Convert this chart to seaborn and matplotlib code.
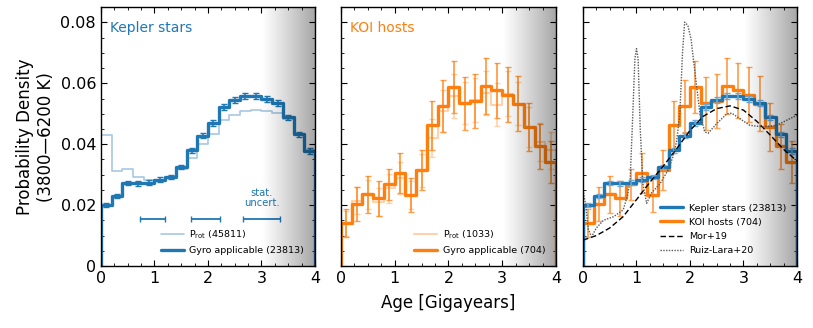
import numpy as np
import pandas as pd
import matplotlib
matplotlib.use("Agg")
import matplotlib.pyplot as plt
import seaborn as sns
from matplotlib.lines import Line2D

# ---------------- data ----------------
bin_edges = [0.0, 0.2, 0.4, 0.6, 0.8, 1.0, 1.2, 1.4, 1.6, 1.8, 2.0,
             2.2, 2.4, 2.6, 2.8, 3.0, 3.2, 3.4, 3.6, 3.8, 4.0]

kepler_gyro = [0.0200, 0.0230, 0.0272, 0.0271, 0.0274, 0.0284, 0.0292, 0.0325,
               0.0380, 0.0428, 0.0470, 0.0522, 0.0545, 0.0558, 0.0558, 0.0549,
               0.0535, 0.0488, 0.0432, 0.0378]
kepler_gyro_err = [0.0007, 0.0007, 0.0007, 0.0007, 0.0007, 0.0007, 0.0007, 0.0008,
                   0.0008, 0.0009, 0.0009, 0.0009, 0.0009, 0.0009, 0.0009, 0.0009,
                   0.0009, 0.0009, 0.0009, 0.0009]
kepler_prot = [0.0430, 0.0313, 0.0318, 0.0293, 0.0282, 0.0282, 0.0290, 0.0320,
               0.0355, 0.0402, 0.0435, 0.0479, 0.0495, 0.0509, 0.0511, 0.0508,
               0.0501, 0.0482, 0.0435, 0.0380]

koi_gyro = [0.0140, 0.0203, 0.0235, 0.0222, 0.0269, 0.0306, 0.0233, 0.0315,
            0.0462, 0.0526, 0.0588, 0.0535, 0.0542, 0.0590, 0.0577, 0.0563,
            0.0533, 0.0457, 0.0393, 0.0342]
koi_gyro_err = [0.0046, 0.0055, 0.0060, 0.0057, 0.0051, 0.0066, 0.0057, 0.0066,
                0.0081, 0.0086, 0.0085, 0.0087, 0.0088, 0.0092, 0.0090, 0.0091,
                0.0090, 0.0079, 0.0074, 0.0069]
koi_prot = [0.0140, 0.0215, 0.0235, 0.0210, 0.0255, 0.0290, 0.0233, 0.0315,
            0.0421, 0.0508, 0.0559, 0.0535, 0.0545, 0.0568, 0.0530, 0.0566,
            0.0533, 0.0457, 0.0408, 0.0380]
koi_prot_err = [0.0040, 0.0045, 0.0048, 0.0045, 0.0048, 0.0052, 0.0047, 0.0054,
                0.0063, 0.0069, 0.0072, 0.0070, 0.0071, 0.0073, 0.0070, 0.0073,
                0.0070, 0.0065, 0.0062, 0.0060]

stat_x = [0.96, 1.96, 3.00]
stat_xerr = [0.23, 0.27, 0.35]
stat_y = [0.0155, 0.0155, 0.0155]

mor_age = [0.0, 0.25, 0.5, 0.75, 1.0, 1.25, 1.5, 1.75, 2.0, 2.25, 2.5,
           2.75, 3.0, 3.25, 3.5, 3.75, 4.0]
mor_pdf = [0.0085, 0.0100, 0.0125, 0.0162, 0.0218, 0.0275, 0.0328, 0.0385,
           0.0445, 0.0492, 0.0517, 0.0526, 0.0512, 0.0475, 0.0430, 0.0383, 0.0345]

ruiz_age = [0.0, 0.05, 0.10, 0.16, 0.25, 0.38, 0.57, 0.75, 0.83, 0.88, 0.92,
            0.97, 1.00, 1.03, 1.07, 1.12, 1.19, 1.28, 1.44, 1.59, 1.68, 1.75,
            1.81, 1.86, 1.90, 1.96, 2.02, 2.09, 2.19, 2.28, 2.34, 2.50, 2.69,
            2.78, 2.93, 3.12, 3.37, 3.62, 3.81, 4.0]
ruiz_pdf = [0.0250, 0.0200, 0.0120, 0.0096, 0.0125, 0.0150, 0.0162, 0.0184,
            0.0230, 0.0280, 0.0450, 0.0680, 0.0714, 0.0680, 0.0450, 0.0270,
            0.0206, 0.0240, 0.0270, 0.0315, 0.0358, 0.0410, 0.0500, 0.0700,
            0.0801, 0.0790, 0.0745, 0.0640, 0.0495, 0.0440, 0.0436, 0.0468,
            0.0500, 0.0502, 0.0484, 0.0462, 0.0457, 0.0462, 0.0479, 0.0495]

BLUE = "#1f77b4"
LBLUE = "#a6c8e3"
ORANGE = "#ff7f0e"

# ---------------- style ----------------
sns.set_style("ticks")
plt.rcParams.update({
    "font.family": ["DejaVu Sans"],
    "text.color": "black", "axes.labelcolor": "black",
    "xtick.labelcolor": "black", "ytick.labelcolor": "black",
    "xtick.direction": "in", "ytick.direction": "in",
    "xtick.top": True, "ytick.right": True,
    "xtick.major.size": 4.5, "ytick.major.size": 4.5,
    "xtick.minor.size": 2.2, "ytick.minor.size": 2.2,
    "xtick.labelsize": 11.5, "ytick.labelsize": 11.5,
    "axes.edgecolor": "black", "axes.linewidth": 1.0,
    "xtick.color": "black", "ytick.color": "black",
})

fig = plt.figure(figsize=(8.13, 3.28), dpi=100)
bottom, height = 0.189, 0.789
axes = [fig.add_axes([0.1242, bottom, 0.2632, height]),
        fig.add_axes([0.4194, bottom, 0.2645, height]),
        fig.add_axes([0.7171, bottom, 0.2632, height])]

edges = np.array(bin_edges)
centers = 0.5 * (edges[1:] + edges[:-1])
bw = float(edges[1] - edges[0])
brange = (float(edges[0]), float(edges[-1]))


def step(ax, vals, color, lw, alpha=1.0, z=2):
    df = pd.DataFrame({"age": centers, "w": vals})
    sns.histplot(data=df, x="age", weights="w", binwidth=bw, binrange=brange,
                 element="step", fill=False, color=color, linewidth=lw,
                 alpha=alpha, ax=ax, zorder=z)
    # vertical ends like a step histogram
    ax.plot([edges[0], edges[0]], [0, vals[0]], color=color, lw=lw, alpha=alpha, zorder=z)
    ax.plot([edges[-1], edges[-1]], [0, vals[-1]], color=color, lw=lw, alpha=alpha, zorder=z)


def shade(ax):
    xs = np.linspace(0, 1, 256)
    a = 0.35 * xs ** 1.1
    img = np.zeros((1, 256, 4))
    img[..., 3] = a
    ax.imshow(img, extent=[3.0, 4.0, 0, 0.085], aspect="auto", zorder=3,
              interpolation="bilinear")


# ---- panel 1: Kepler stars ----
ax = axes[0]
step(ax, kepler_prot, LBLUE, 1.2)
step(ax, kepler_gyro, BLUE, 2.4)
ax.errorbar(centers, kepler_gyro, yerr=kepler_gyro_err, fmt="none", ecolor=BLUE,
            elinewidth=1.2, capsize=2.2, capthick=1.0, zorder=2)
ax.errorbar(stat_x, stat_y, xerr=stat_xerr, fmt="none", ecolor=BLUE,
            elinewidth=1.3, capsize=2.5, capthick=1.0, zorder=2)
ax.text(3.0, 0.0225, "stat.\nuncert.", color=BLUE, fontsize=7.2, ha="center",
        va="center", linespacing=1.0)
ax.text(0.042, 0.92, "Kepler stars", color=BLUE, fontsize=10,
        transform=ax.transAxes, va="center", ha="left")

# ---- panel 2: KOI hosts ----
ax = axes[1]
step(ax, koi_prot, ORANGE, 1.5, alpha=0.35)
ax.errorbar(centers, koi_prot, yerr=koi_prot_err, fmt="none", ecolor=ORANGE,
            alpha=0.35, elinewidth=1.2, capsize=2.2, zorder=2)
step(ax, koi_gyro, ORANGE, 2.4)
ax.errorbar(centers, koi_gyro, yerr=koi_gyro_err, fmt="none", ecolor=ORANGE,
            alpha=0.75, elinewidth=1.3, capsize=2.2, zorder=2)
ax.text(0.042, 0.92, "KOI hosts", color=ORANGE, fontsize=10,
        transform=ax.transAxes, va="center", ha="left")

# ---- panel 3: comparison ----
ax = axes[2]
step(ax, koi_gyro, ORANGE, 2.4)
ax.errorbar(centers, koi_gyro, yerr=koi_gyro_err, fmt="none", ecolor=ORANGE,
            alpha=0.7, elinewidth=1.3, capsize=2.2, zorder=2)
step(ax, kepler_gyro, BLUE, 2.4)
ax.errorbar(centers, kepler_gyro, yerr=kepler_gyro_err, fmt="none", ecolor="#6fa8d6",
            elinewidth=1.2, capsize=2.2, zorder=2)
sns.lineplot(x=mor_age, y=mor_pdf, color="black", lw=1.0, ax=ax,
             linestyle=(0, (4, 2)), zorder=2.5)
sns.lineplot(x=ruiz_age, y=ruiz_pdf, color="0.35", lw=1.0, ax=ax,
             linestyle=(0, (1, 1)), zorder=2.5)

for i, ax in enumerate(axes):
    shade(ax)
    ax.set_xlim(0, 4)
    ax.set_ylim(0, 0.085)
    ax.set_xticks([0, 1, 2, 3, 4])
    ax.set_xticks(np.arange(0, 4.01, 0.25), minor=True)
    ax.set_yticks([0, 0.02, 0.04, 0.06, 0.08])
    ax.set_yticks(np.arange(0, 0.0851, 0.005), minor=True)
    ax.set_xticklabels(["0", "1", "2", "3", "4"])
    ax.tick_params(which="both", direction="in", top=True, right=True,
                   labelcolor="black", color="black")
    ax.set_xlabel("")
    ax.set_ylabel("")
    if i == 0:
        ax.set_yticklabels(["0", "0.02", "0.04", "0.06", "0.08"])
    else:
        ax.set_yticklabels([])
    for s in ax.spines.values():
        s.set_visible(True)

axes[0].set_ylabel("Probability Density\n(3800\u20146200 K)", fontsize=12,
                   labelpad=4, color="black")
axes[1].set_xlabel("Age [Gigayears]", fontsize=12, labelpad=6, color="black")

leg_kw = dict(loc="lower right", frameon=False, fontsize=6.8, handlelength=2.4,
              borderaxespad=0.75, handletextpad=0.6, labelspacing=0.55)
h1 = [Line2D([], [], color=LBLUE, lw=1.2), Line2D([], [], color=BLUE, lw=2.4)]
leg = axes[0].legend(h1, [r"P$_{\rm rot}$ (45811)", "Gyro applicable (23813)"], **leg_kw)
leg.set_zorder(5)
h2 = [Line2D([], [], color=ORANGE, alpha=0.35, lw=1.5), Line2D([], [], color=ORANGE, lw=2.4)]
leg = axes[1].legend(h2, [r"P$_{\rm rot}$ (1033)", "Gyro applicable (704)"], **leg_kw)
leg.set_zorder(5)
h3 = [Line2D([], [], color=BLUE, lw=2.4), Line2D([], [], color=ORANGE, lw=2.4),
      Line2D([], [], color="black", lw=1.0, linestyle=(0, (4, 2))),
      Line2D([], [], color="0.35", lw=1.0, linestyle=(0, (1, 1)))]
leg = axes[2].legend(h3, ["Kepler stars (23813)", "KOI hosts (704)", "Mor+19",
                          "Ruiz-Lara+20"], **leg_kw)
leg.set_zorder(5)

fig.savefig("out.png", dpi=100)
